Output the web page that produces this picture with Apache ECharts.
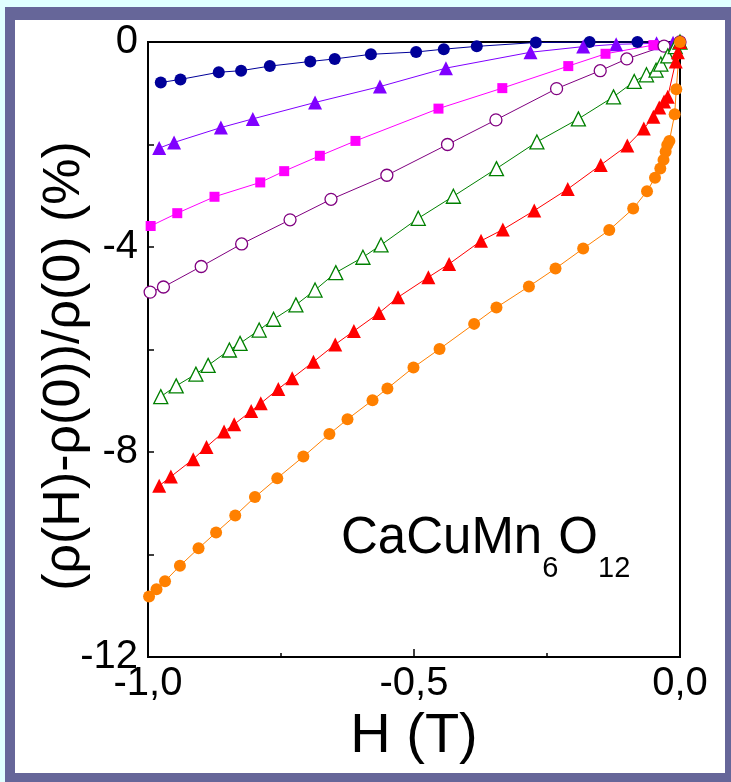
<!DOCTYPE html>
<html>
<head>
<meta charset="utf-8">
<script src="https://cdn.jsdelivr.net/npm/echarts@6/dist/echarts.min.js"></script>
<style>
html,body{margin:0;padding:0;background:#e0ffff;}
#chart{width:731px;height:782px;}
</style>
</head>
<body>
<div id="chart"></div>
<script>
// ---- data (H in T, MR in %) ----
const hNavy = [-0.976,-0.939,-0.867,-0.825,-0.771,-0.695,-0.649,-0.581,-0.496,-0.444,-0.382,-0.271,-0.17,-0.08,0];
const mrNavy = [-0.79,-0.73,-0.59,-0.56,-0.47,-0.38,-0.33,-0.24,-0.195,-0.14,-0.085,-0.01,0,0,0];

const hViolet = [-0.979,-0.951,-0.863,-0.803,-0.686,-0.564,-0.440,-0.281,-0.182,-0.120,-0.044,-0.013,0];
const mrViolet = [-2.07,-1.96,-1.67,-1.50,-1.18,-0.87,-0.51,-0.20,-0.09,-0.045,-0.026,-0.013,0];

const hMagenta = [-0.995,-0.945,-0.875,-0.789,-0.744,-0.677,-0.610,-0.454,-0.334,-0.210,-0.140,-0.05,0];
const mrMagenta = [-3.59,-3.34,-3.02,-2.74,-2.52,-2.22,-1.93,-1.30,-0.90,-0.47,-0.23,-0.06,0];

const hPurple = [-0.996,-0.971,-0.900,-0.824,-0.733,-0.656,-0.551,-0.437,-0.346,-0.232,-0.150,-0.100,-0.030,0];
const mrPurple = [-4.88,-4.78,-4.38,-3.94,-3.47,-3.07,-2.60,-2.00,-1.52,-0.91,-0.56,-0.33,-0.08,0];

const hGreen = [-0.976,-0.947,-0.910,-0.887,-0.847,-0.827,-0.791,-0.764,-0.722,-0.686,-0.647,-0.596,-0.562,-0.492,-0.426,-0.345,-0.269,-0.191,-0.125,-0.086,-0.063,-0.045,-0.036,-0.023,-0.009,0];
const mrGreen = [-6.92,-6.71,-6.48,-6.31,-6.01,-5.88,-5.62,-5.41,-5.13,-4.84,-4.50,-4.20,-3.96,-3.44,-3.01,-2.47,-1.95,-1.50,-1.07,-0.77,-0.64,-0.55,-0.43,-0.27,-0.09,0];

const hRed = [-0.979,-0.957,-0.915,-0.890,-0.857,-0.838,-0.806,-0.788,-0.755,-0.729,-0.689,-0.648,-0.613,-0.566,-0.530,-0.473,-0.434,-0.374,-0.333,-0.274,-0.211,-0.149,-0.099,-0.068,-0.050,-0.039,-0.030,-0.023,-0.008,-0.004,0];
const mrRed = [-8.66,-8.48,-8.14,-7.90,-7.60,-7.46,-7.20,-7.05,-6.77,-6.56,-6.24,-5.90,-5.64,-5.29,-4.98,-4.59,-4.33,-3.88,-3.66,-3.29,-2.87,-2.40,-2.02,-1.69,-1.46,-1.28,-1.16,-1.07,-0.38,-0.2,0];

const hOrange = [-0.998,-0.984,-0.968,-0.940,-0.905,-0.872,-0.836,-0.799,-0.757,-0.708,-0.659,-0.625,-0.578,-0.550,-0.501,-0.452,-0.387,-0.345,-0.284,-0.234,-0.182,-0.133,-0.088,-0.062,-0.047,-0.037,-0.031,-0.027,-0.024,-0.020,-0.010,-0.007,0];
const mrOrange = [-10.82,-10.68,-10.52,-10.22,-9.88,-9.57,-9.24,-8.88,-8.51,-8.09,-7.65,-7.36,-6.99,-6.76,-6.35,-5.99,-5.50,-5.18,-4.77,-4.42,-4.03,-3.67,-3.25,-2.91,-2.65,-2.47,-2.30,-2.14,-2.01,-1.93,-1.41,-0.92,0];

const xTicks = [-1, -0.5, 0];
const yTicks = [-12, -8, -4, 0];
const yTitle = '(ρ(H)-ρ(0))/ρ(0) (%)';
const xTitle = 'H (T)';

const FONT = "'Liberation Sans', Arial, Helvetica, sans-serif";

function pairs(xs, ys){ return xs.map((x,i)=>[x, ys[i]]); }

function mk(name, xs, ys, color, symbol, size, hollow){
  return {
    name: name,
    type: 'line',
    data: pairs(xs, ys),
    symbol: symbol,
    symbolSize: size,
    showAllSymbol: true,
    clip: false,
    lineStyle: {color: color, width: 1},
    itemStyle: hollow ? {color: '#ffffff', borderColor: color, borderWidth: 1.3}
                      : {color: color, borderWidth: 0},
    emphasis: {disabled: true},
    animation: false
  };
}

const chart = echarts.init(document.getElementById('chart'), null, {renderer: 'canvas'});

const option = {
  backgroundColor: '#e0ffff',
  animation: false,
  grid: {left: 148, right: 51, top: 42, bottom: 125, show: true,
         borderColor: '#000', borderWidth: 2, backgroundColor: 'transparent'},
  xAxis: {
    type: 'value', min: xTicks[0], max: xTicks[xTicks.length-1], interval: 0.5,
    name: xTitle, nameLocation: 'middle', nameGap: 52,
    nameTextStyle: {fontSize: 56, color: '#000', fontFamily: FONT},
    axisLine: {show: true, onZero: false, lineStyle: {color: '#000', width: 2}},
    axisTick: {show: true, inside: true, length: 8, lineStyle: {color: '#000', width: 1.5}},
    minorTick: {show: true, splitNumber: 2, length: 4, lineStyle: {color: '#000', width: 1.5}},
    splitLine: {show: false},
    axisLabel: {fontSize: 40, color: '#000', fontFamily: FONT, margin: 7,
      formatter: v => v.toFixed(1).replace('.', ',')}
  },
  yAxis: {
    type: 'value', min: yTicks[0], max: yTicks[yTicks.length-1], interval: 4,
    axisLine: {show: true, onZero: false, lineStyle: {color: '#000', width: 2}},
    axisTick: {show: true, inside: true, length: 6, lineStyle: {color: '#000', width: 1.5}},
    minorTick: {show: true, splitNumber: 2, length: 6, lineStyle: {color: '#000', width: 1.5}},
    splitLine: {show: false},
    axisLabel: {fontSize: 40, color: '#000', fontFamily: FONT, margin: 10}
  },
  graphic: [
    {type: 'rect', z: -10, silent: true, shape: {x: 15, y: 20, width: 710, height: 753}, style: {fill: '#ffffff'}},
    // y-axis title
    {type: 'text', z: 50, silent: true, x: 65, y: 366, rotation: Math.PI / 2,
      style: {text: yTitle, fontSize: 52, fontFamily: FONT, fill: '#000', align: 'center', verticalAlign: 'middle'}},
    {type: 'text', z: 50, silent: true, x: 341, y: 513,
      style: {
        text: '{a|CaCuMn}{b|6}{a|O}{b|12}',
        rich: {
          a: {fontSize: 51, lineHeight: 52, fontFamily: FONT, fill: '#000', verticalAlign: 'top'},
          b: {fontSize: 29, lineHeight: 29, fontFamily: FONT, fill: '#000', verticalAlign: 'top', padding: [41, 0, 0, 0]}
        },
        verticalAlign: 'top', align: 'left'
      }},
    // slate frame drawn on top
    {type: 'rect', z: 200, silent: true, shape: {x: 5, y: 7, width: 10, height: 775}, style: {fill: '#666699'}},
    {type: 'rect', z: 200, silent: true, shape: {x: 5, y: 7, width: 726, height: 13}, style: {fill: '#666699'}},
    {type: 'rect', z: 200, silent: true, shape: {x: 725, y: 7, width: 6, height: 775}, style: {fill: '#666699'}},
    {type: 'rect', z: 200, silent: true, shape: {x: 5, y: 773, width: 726, height: 9}, style: {fill: '#666699'}}
  ],
  series: [
    mk('navy', hNavy, mrNavy, '#000099', 'circle', 12, false),
    mk('violet', hViolet, mrViolet, '#8000ff', 'triangle', 14, false),
    mk('magenta', hMagenta, mrMagenta, '#ff00ff', 'rect', 10, false),
    mk('purple', hPurple, mrPurple, '#800080', 'circle', 12, true),
    mk('green', hGreen, mrGreen, '#008000', 'triangle', 14, true),
    mk('red', hRed, mrRed, '#ff0000', 'triangle', 14, false),
    mk('orange', hOrange, mrOrange, '#ff8000', 'circle', 12, false)
  ]
};
chart.setOption(option);
</script>
</body>
</html>
